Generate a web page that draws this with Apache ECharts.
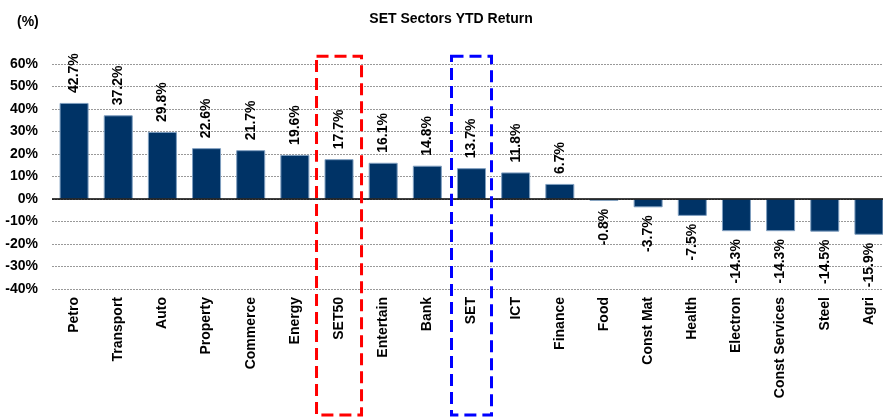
<!DOCTYPE html>
<html>
<head>
<meta charset="utf-8">
<script src="https://cdn.jsdelivr.net/npm/echarts@6/dist/echarts.min.js"></script>
<style>html,body{margin:0;padding:0;background:#fff;overflow:hidden}#c{width:891px;height:418px}</style>
</head>
<body>
<div id="c"></div>
<script>
var categories = ['Petro','Transport','Auto','Property','Commerce','Energy','SET50','Entertain','Bank','SET','ICT','Finance','Food','Const Mat','Health','Electron','Const Services','Steel','Agri'];
var values = [42.7,37.2,29.8,22.6,21.7,19.6,17.7,16.1,14.8,13.7,11.8,6.7,-0.8,-3.7,-7.5,-14.3,-14.3,-14.5,-15.9];
var yTicks = [-40,-30,-20,-10,0,10,20,30,40,50,60];
var highlights = [{name:'SET50', color:'#ff0000'}, {name:'SET', color:'#0000ff'}];

var FONT = 'Liberation Sans, Arial, sans-serif';
var chart = echarts.init(document.getElementById('c'));
chart.setOption({
  animation: false,
  title: {
    text: 'SET Sectors YTD Return', left: 446, top: 7, textAlign: 'center',
    textStyle: {fontFamily: FONT, fontSize: 14, fontWeight: 'bold', color: '#000'}
  },
  grid: {left: 52, right: 0, top: 64, bottom: 129, containLabel: false},
  xAxis: {
    type: 'category', data: categories,
    axisLine: {show: false, onZero: false}, axisTick: {show: false},
    axisLabel: {rotate: 90, margin: 8, interval: 0, fontFamily: FONT, fontSize: 14, fontWeight: 'bold', color: '#000'}
  },
  yAxis: {
    type: 'value', min: yTicks[0], max: yTicks[yTicks.length-1], interval: 10,
    axisLine: {show: false}, axisTick: {show: false},
    splitLine: {lineStyle: {color: '#999', type: [2, 1], width: 1}},
    axisLabel: {margin: 14, fontFamily: FONT, fontSize: 14, fontWeight: 'bold', color: '#000', formatter: '{value}%'}
  },
  series: [{
    type: 'bar', barWidth: 29,
    itemStyle: {color: '#003366', borderColor: '#7f9fc0', borderWidth: 1},
    data: values.map(function(v){
      return {value: v, label: v >= 0
        ? {position: 'top', align: 'left', verticalAlign: 'middle', distance: 10}
        : {position: 'bottom', align: 'right', verticalAlign: 'middle', distance: 8}};
    }),
    label: {show: true, rotate: 90, fontFamily: FONT, fontSize: 14, fontWeight: 'bold', color: '#000',
      formatter: function(p){ return p.value.toFixed(1) + '%'; }},
    markLine: {silent: true, symbol: 'none', label: {show: false},
      lineStyle: {color: '#000', type: 'solid', width: 1.5}, data: [{yAxis: 0}]}
  }]
});

function drawBoxes(){
  var g = highlights.map(function(h){
    var cx = chart.convertToPixel({xAxisIndex: 0}, h.name);
    var yTop = chart.convertToPixel({yAxisIndex: 0}, 63.5);
    var w = h.name === 'SET50' ? 45 : 40;
    return {type: 'rect', shape: {x: cx - w/2, y: yTop, width: w, height: 415 - yTop},
      style: {fill: 'none', stroke: h.color, lineWidth: 3, lineDash: [12, 6]}, z: 10};
  });
  g.unshift({type:'text', left: 17, top: 15, style:{text:'(%)', font:'bold 14px ' + FONT, fill:'#000'}});
  chart.setOption({graphic: g});
}
drawBoxes();
</script>
</body>
</html>
